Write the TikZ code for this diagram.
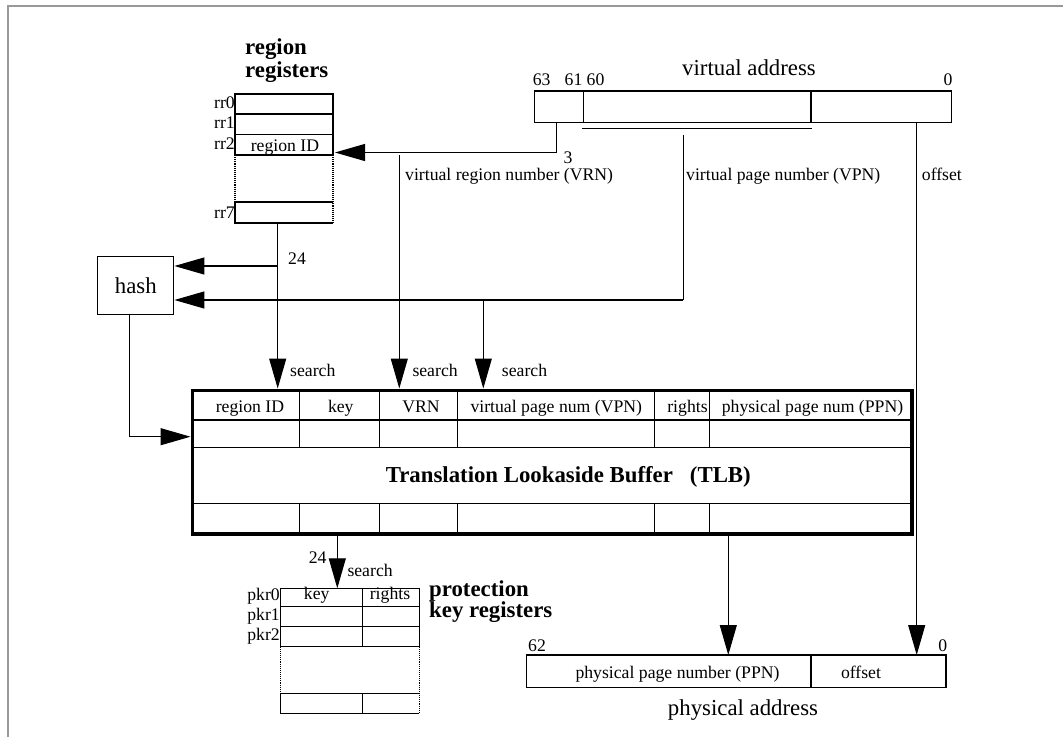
\documentclass[tikz,border=0pt]{standalone}
\usepackage{fontspec}
\setmainfont{Liberation Serif}
\usetikzlibrary{arrows.meta}
\begin{document}
\begin{tikzpicture}[x=1pt,y=-1pt,
 ln/.style={line width=1.1pt},
 dots/.style={line width=1.1pt,densely dotted},
 tlbline/.style={line width=3.6pt},
 arr/.style={line width=1.1pt,-{Triangle[length=30pt,width=17pt]}},
 sm/.style={inner sep=0pt,font=\fontsize{17.7}{20}\selectfont},
 lg/.style={inner sep=0pt,font=\fontsize{22.8}{26}\selectfont},
 lgb/.style={inner sep=0pt,font=\fontsize{22.8}{26}\selectfont\bfseries},
]
\useasboundingbox (0,0) rectangle (1063,737);
\draw[gray!80, line width=1.8pt] (8,737) -- (8,6) -- (1063,6);

% ---------- region registers ----------
\node[lgb,anchor=base west] (rrt1) at (245,54) {region};
\node[lgb,anchor=base west] (rrt2) at (245,77.3) {registers};
\draw[ln] (235,94) rectangle (333,155);
\draw[ln] (235,114)--(333,114) (235,134.5)--(333,134.5);
\draw[dots] (235,155)--(235,202) (333,155)--(333,223);
\draw[ln] (333,202)--(235,202)--(235,223)--(333,223);
\node[sm,anchor=base east] (rr0) at (235,108) {rr0};
\node[sm,anchor=base east] (rr1) at (235,128.3) {rr1};
\node[sm,anchor=base east] (rr2) at (235,149.5) {rr2};
\node[sm,anchor=base east] (rr7) at (235,218) {rr7};
\node[sm,anchor=base] (rrid) at (285,151.5) {region ID};
\coordinate (rrin) at (335,152.5);
\coordinate (rrout) at (277.7,223);

% ---------- virtual address ----------
\node[lg,anchor=base] (vatitle) at (749,75) {virtual address};
\draw[ln] (534.3,91) rectangle (951.7,122.7);
\draw[ln] (583.3,91)--(583.3,122.7) (811,91)--(811,122.7);
\draw[ln] (582.3,128.3)--(812.3,128.3);
\node[sm,anchor=base] (b63) at (541.7,85) {63};
\node[sm,anchor=base] (b61) at (573.5,85) {61};
\node[sm,anchor=base] (b60) at (595.5,85) {60};
\node[sm,anchor=base] (b0) at (948,85) {0};
\coordinate (vavrn) at (556.7,122.7);
\coordinate (vavpn) at (683.3,135);
\coordinate (vaoff) at (916.7,122.7);
\node[sm,anchor=base] (three) at (568,163) {3};
\node[sm,anchor=base west] (vrnlbl) at (405,180) {virtual region number (VRN)};
\node[sm,anchor=base west] (vpnlbl) at (686,180) {virtual page number (VPN)};
\node[sm,anchor=base west] (offlbl) at (921.7,180) {offset};

% ---------- hash ----------
\node[draw,ln,lg,minimum width=76pt,minimum height=58.3pt,anchor=north west] (hash) at (97.3,255.7) {hash};
\node[sm,anchor=base] (n24a) at (297,264) {24};

% ---------- TLB ----------
\draw[tlbline] (192.5,390.3) rectangle (912,534.2);
\draw[ln] (192.5,420)--(912,420) (192.5,447.3)--(912,447.3) (192.5,503.3)--(912,503.3);
\foreach \xx in {299.3,379.3,457.3,654.3,709.3}{
  \draw[ln] (\xx,390.3)--(\xx,447.3) (\xx,503.3)--(\xx,534.2);
}
\node[sm,anchor=base] (hrid) at (250,412.5) {region ID};
\node[sm,anchor=base] (hkey) at (340.8,412.5) {key};
\node[sm,anchor=base] (hvrn) at (421,412.5) {VRN};
\node[sm,anchor=base] (hvpn) at (556.3,412.5) {virtual page num (VPN)};
\node[sm,anchor=base] (hrights) at (687.5,412.5) {rights};
\node[sm,anchor=base] (hppn) at (812.5,412.5) {physical page num (PPN)};
\node[lgb,anchor=base] (tlbtitle) at (568.3,482.7) {Translation Lookaside Buffer\hspace{17pt}(TLB)};
\coordinate (tlbrid) at (277.7,388.5);
\coordinate (tlbvrn) at (399.3,388.5);
\coordinate (tlbvpn) at (483.3,388.5);
\coordinate (tlbin) at (190.5,436.7);
\node[sm,anchor=base west] (s1) at (290,376) {search};
\node[sm,anchor=base west] (s2) at (412.3,376) {search};
\node[sm,anchor=base west] (s3) at (501.7,376) {search};

% ---------- connectors (top) ----------
\coordinate (vrnstart) at (399.3,155);
\coordinate (rrbranch) at (277.7,266);
\coordinate (vpnturn) at (683.3,300);
\coordinate (vpnbranch) at (483.3,300);
\coordinate (hashout) at (129.3,314);
\draw[arr] (vavrn) |- (rrin);
\draw[arr] (vrnstart) -- (tlbvrn);
\draw[arr] (rrout) -- (tlbrid);
\draw[arr] (rrbranch) -- (hash.east |- rrbranch);
\draw[ln] (vavpn) -- (vpnturn);
\draw[arr] (vpnturn) -- (hash.east |- vpnturn);
\draw[arr] (vpnbranch) -- (tlbvpn);
\draw[arr] (hashout) |- (tlbin);

% ---------- protection key registers ----------
\node[lgb,anchor=base west] (pkt1) at (429,596.5) {protection};
\node[lgb,anchor=base west] (pkt2) at (429,617.3) {key registers};
\draw[ln] (280.7,588.3) rectangle (419.3,646.7);
\draw[ln] (280.7,606.7)--(419.3,606.7) (280.7,626.7)--(419.3,626.7) (362.7,588.3)--(362.7,646.7);
\draw[dots] (280.7,646.7)--(280.7,693.3) (419.3,646.7)--(419.3,713.3);
\draw[ln] (419.3,693.3)--(280.7,693.3)--(280.7,713.3)--(419.3,713.3) (362.7,693.3)--(362.7,713.3);
\node[sm,anchor=base east] (pkr0) at (280,600) {pkr0};
\node[sm,anchor=base east] (pkr1) at (280,620) {pkr1};
\node[sm,anchor=base east] (pkr2) at (280,640) {pkr2};
\node[sm,anchor=base] (pkey) at (316.7,599) {key};
\node[sm,anchor=base] (prights) at (390,599) {rights};
\coordinate (tlbkey) at (337.3,536);
\coordinate (pkrin) at (337.3,588.3);
\draw[arr] (tlbkey) -- (pkrin);
\node[sm,anchor=base east] (n24b) at (326.7,563.3) {24};
\node[sm,anchor=base west] (s4) at (347.3,576.7) {search};

% ---------- physical address ----------
\draw[ln] (526.7,655) rectangle (946,687.3);
\draw[ln] (811,655)--(811,687.3);
\node[sm,anchor=base west] (p62) at (528,651.7) {62};
\node[sm,anchor=base] (p0) at (942.7,651.7) {0};
\node[sm,anchor=base] (pppn) at (677.5,678.3) {physical page number (PPN)};
\node[sm,anchor=base] (poff) at (861,678.3) {offset};
\node[lg,anchor=base] (patitle) at (743,715.5) {physical address};
\coordinate (tlbppn) at (728.3,536);
\coordinate (pappn) at (728.3,655);
\coordinate (paoff) at (916.7,655);
\draw[arr] (tlbppn) -- (pappn);
\draw[arr] (vaoff) -- (paoff);
\end{tikzpicture}
\end{document}
